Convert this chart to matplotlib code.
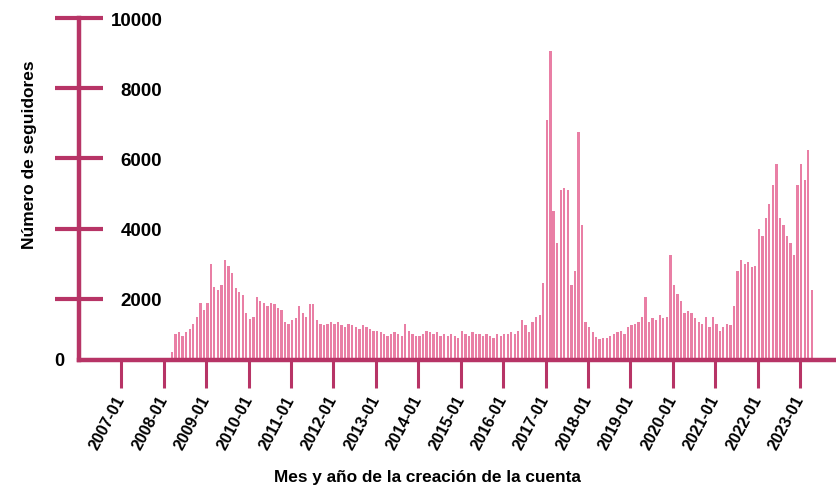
import pandas as pd
import matplotlib.pyplot as plt
from datetime import date

# seguidores por mes de creacion de la cuenta (2008-03 .. 2023-04)
meses = pd.date_range("2008-03-01", periods=182, freq="MS")
seguidores = (
    [500, 1000, 1050, 950, 1050, 1150, 1300, 1500, 1900, 1700]  # 2008
    + [1900, 3000, 2350, 2250, 2400, 3100, 2950, 2750, 2300, 2200, 2100, 1600]  # 2009
    + [1430, 1500, 2050, 1950, 1900, 1800, 1900, 1850, 1750, 1700, 1350, 1300]  # 2010
    + [1400, 1450, 1800, 1600, 1500, 1850, 1850, 1400, 1300, 1250, 1300, 1350]  # 2011
    + [1300, 1350, 1250, 1200, 1300, 1250, 1200, 1150, 1250, 1200, 1150, 1100]  # 2012
    + [1100, 1050, 1000, 950, 1000, 1050, 1000, 950, 1300, 1100, 1000, 950]  # 2013
    + [950, 1000, 1100, 1050, 1000, 1050, 950, 1000, 950, 1000, 950, 900]  # 2014
    + [1100, 1000, 950, 1050, 1000, 1000, 950, 1000, 950, 900, 1000, 950]  # 2015
    + [1000, 1000, 1050, 1000, 1100, 1400, 1250, 1050, 1350, 1500, 1550, 2450]  # 2016
    + [7100, 9050, 4500, 3600, 5100, 5150, 5100, 2400, 2800, 6750, 4100, 1340]  # 2017
    + [1200, 1050, 920, 870, 880, 900, 950, 1000, 1060, 1100, 1000, 1200]  # 2018
    + [1250, 1300, 1350, 1500, 2050, 1350, 1450, 1400, 1550, 1450, 1500, 3250]  # 2019
    + [2400, 2150, 1950, 1600, 1650, 1600, 1450, 1350, 1300, 1500, 1200, 1500]  # 2020
    + [1300, 1100, 1200, 1300, 1250, 1800, 2800, 3100, 3000, 3050, 2900, 2950]  # 2021
    + [4000, 3800, 4300, 4700, 5250, 5850, 4300, 4100, 3800, 3600, 3250, 5250]  # 2022
    + [5850, 5400, 6250, 2250]  # 2023
)
anios = [date(a, 1, 1) for a in range(2007, 2024)]
etiquetas_x = [f"{a}-01" for a in range(2007, 2024)]
ticks_y = [2000, 4000, 6000, 8000, 10000]

color_eje = "#b73466"
color_barra = "#e97fa5"

plt.rcParams["font.family"] = ["Liberation Sans", "DejaVu Sans"]
plt.rcParams["font.weight"] = "bold"

fig = plt.figure(figsize=(8.37, 4.89), dpi=100)
ax = fig.add_axes([79 / 837, 1 - 361 / 489, 1 - 79 / 837, (361 - 19) / 489])

ax.bar(meses, seguidores, width=20, align="edge", color=color_barra, zorder=1)

ax.set_xlim(date(2006, 1, 1), date(2023, 11, 15))
ax.set_ylim(263, 10000)

for lado in ["top", "right"]:
    ax.spines[lado].set_visible(False)
for lado in ["left", "bottom"]:
    ax.spines[lado].set_color(color_eje)
    ax.spines[lado].set_linewidth(3.2)
    ax.spines[lado].set_zorder(3)

ax.set_yticks(ticks_y)
ax.set_yticklabels([str(v) for v in ticks_y], fontsize=13.5, fontweight="bold")
ax.tick_params(axis="y", direction="inout", length=34, width=3, color=color_eje, pad=-77)
for lab in ax.get_yticklabels():
    lab.set_horizontalalignment("right")

ax.set_xticks(anios)
ax.set_xticklabels(etiquetas_x, fontsize=11.5, fontweight="bold", rotation=62,
                   ha="right", va="center", rotation_mode="anchor")
ax.tick_params(axis="x", direction="out", length=20, width=2.2, color=color_eje, pad=6)

fig.text(54 / 837, 1 - 362 / 489, "0", fontsize=13, fontweight="bold", ha="left", va="center")
fig.text(30 / 837, 1 - 155 / 489, "Número de seguidores", fontsize=12.5, fontweight="bold",
         rotation=90, ha="center", va="center")
fig.text(427 / 837, 1 - 478 / 489, "Mes y año de la creación de la cuenta", fontsize=12.4,
         fontweight="bold", ha="center", va="center")

fig.savefig("out.png", dpi=100)
